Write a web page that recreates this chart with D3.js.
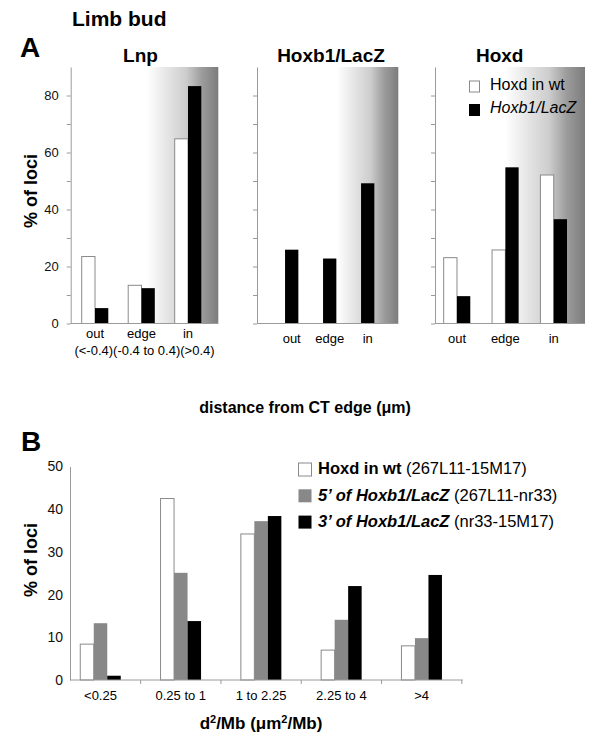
<!DOCTYPE html>
<html><head><meta charset="utf-8">
<script src="https://cdn.jsdelivr.net/npm/d3@7"></script>
<style>body{margin:0;background:#fff}svg{display:block;font-family:"Liberation Sans",Arial,Helvetica,sans-serif}</style>
</head><body><svg id="c" width="600" height="753"></svg>
<script>
// ---------- data ----------
const aCategories = ["out", "edge", "in"];
const aRangeLabels = ["(<-0.4)", "(-0.4 to 0.4)", "(>0.4)"];
const aPanelTitles = ["Lnp", "Hoxb1/LacZ", "Hoxd"];
const lnpWt = [23.5, 13.4, 64.8];
const lnpMut = [5.4, 12.4, 83.3];
const hoxb1Mut = [25.9, 22.8, 49.2];
const hoxdWt = [23.1, 25.8, 52.1];
const hoxdMut = [9.6, 54.8, 36.6];
const aTickValues = [0, 10, 20, 30, 40, 50, 60, 70, 80];
const aLegend = ["Hoxd in wt", "Hoxb1/LacZ"];

const bCategories = ["<0.25", "0.25 to 1", "1 to 2.25", "2.25 to 4", ">4"];
const bWt = [8.4, 42.5, 34.2, 7.0, 8.0];
const b5prime = [13.3, 25.1, 37.2, 14.1, 9.8];
const b3prime = [1.0, 13.8, 38.4, 22.0, 24.6];
const bTickValues = [0, 10, 20, 30, 40, 50];
const bLegendBold = ["Hoxd in wt", "5\u2019 of Hoxb1/LacZ", "3\u2019 of Hoxb1/LacZ"];
const bLegendPlain = [" (267L11-15M17)", " (267L11-nr33)", " (nr33-15M17)"];

// ---------- drawing ----------
const svg = d3.select("#c");
const AX = "#9a9a9a";
const defs = svg.append("defs");
const grad = defs.append("linearGradient").attr("id", "shade").attr("x1", 0).attr("x2", 1).attr("y1", 0).attr("y2", 0);
[[0, "#ffffff"], [0.55, "#cdcdcd"], [0.77, "#9c9c9c"], [1, "#7c7c7c"]].forEach(s =>
  grad.append("stop").attr("offset", s[0]).attr("stop-color", s[1]));

svg.append("text").attr("x", 72).attr("y", 26).attr("font-size", 21).attr("font-weight", "bold").text("Limb bud");
svg.append("text").attr("x", 20).attr("y", 57).attr("font-size", 28).attr("font-weight", "bold").text("A");
svg.append("text").attr("x", 21).attr("y", 451).attr("font-size", 28).attr("font-weight", "bold").text("B");

// ----- panel A -----
const ay = d3.scaleLinear().domain([0, 90]).range([323.5, 67]);
const aBarW = 13.3;
const panels = [
  {title: aPanelTitles[0], titleX: 140.5, axisX: 70.7, right: 218.3, band: [71.75, 211.25], shade: [146.7, 218.3], wt: lnpWt, mut: lnpMut, labels: true, catY: 338},
  {title: aPanelTitles[1], titleX: 331, axisX: 257, right: 398.3, band: [272.7, 386.7], shade: [336.7, 398.3], wt: null, mut: hoxb1Mut, labels: false, catY: 342.5},
  {title: aPanelTitles[2], titleX: 499.7, axisX: 435, right: 585, band: [432.8, 577.9], shade: [505, 585], wt: hoxdWt, mut: hoxdMut, labels: false, catY: 342.5}
];

panels.forEach(p => {
  const g = svg.append("g");
  const x = d3.scaleBand().domain(aCategories).range(p.band);
  const cx = c => x(c) + x.bandwidth() / 2;
  g.append("rect").attr("x", p.shade[0]).attr("y", ay(90)).attr("width", p.shade[1] - p.shade[0])
    .attr("height", ay(0) - ay(90)).attr("fill", "url(#shade)");
  g.append("text").attr("x", p.titleX).attr("y", 62).attr("text-anchor", "middle")
    .attr("font-size", 19).attr("font-weight", "bold").text(p.title);
  if (p.wt) {
    g.selectAll(".wt").data(aCategories).join("rect")
      .attr("x", c => cx(c) - aBarW).attr("width", aBarW)
      .attr("y", (c, i) => ay(p.wt[i])).attr("height", (c, i) => ay(0) - ay(p.wt[i]))
      .attr("fill", "#fff").attr("stroke", "#8a8a8a").attr("stroke-width", 1);
    g.selectAll(".mut").data(aCategories).join("rect")
      .attr("x", c => cx(c)).attr("width", aBarW)
      .attr("y", (c, i) => ay(p.mut[i])).attr("height", (c, i) => ay(0) - ay(p.mut[i]))
      .attr("fill", "#000");
  } else {
    g.selectAll(".mut").data(aCategories).join("rect")
      .attr("x", c => cx(c) - aBarW / 2).attr("width", aBarW)
      .attr("y", (c, i) => ay(p.mut[i])).attr("height", (c, i) => ay(0) - ay(p.mut[i]))
      .attr("fill", "#000");
  }
  const axis = d3.axisLeft(ay).tickValues(aTickValues).tickSize(4).tickSizeOuter(0).tickPadding(8)
    .tickFormat(d => p.labels && d % 20 === 0 ? d : "");
  const ag = g.append("g").attr("transform", `translate(${p.axisX},0)`).call(axis);
  ag.select(".domain").attr("stroke", AX);
  ag.selectAll(".tick line").attr("stroke", AX);
  ag.selectAll(".tick text").attr("font-size", 13).attr("fill", "#111").attr("font-family", "Liberation Sans, Arial, sans-serif");
  g.append("line").attr("x1", p.axisX).attr("x2", p.right).attr("y1", ay(0)).attr("y2", ay(0)).attr("stroke", AX);
  g.selectAll(".cat").data(aCategories).join("text")
    .attr("x", c => cx(c)).attr("y", p.catY).attr("text-anchor", "middle").attr("font-size", 13).text(c => c);
  if (p.labels) {
    g.append("text").attr("x", (p.axisX + p.right) / 2).attr("y", 355).attr("text-anchor", "middle")
      .attr("font-size", 13).text(aRangeLabels.join(""));
  }
});

// legend A
const legA = svg.append("g");
aLegend.forEach((t, i) => {
  legA.append("rect").attr("x", 469.5).attr("y", 81 + i * 23.5).attr("width", 10).attr("height", 11)
    .attr("fill", i ? "#000" : "#fff").attr("stroke", i ? "#000" : "#8a8a8a");
  legA.append("text").attr("x", 490).attr("y", 89.5 + i * 23).attr("font-size", 16)
    .attr("font-style", i ? "italic" : "normal").text(t);
});

svg.append("text").attr("transform", "translate(37,191) rotate(-90)").attr("text-anchor", "middle")
  .attr("font-size", 18).attr("font-weight", "bold").text("% of loci");
svg.append("text").attr("x", 305).attr("y", 413).attr("text-anchor", "middle")
  .attr("font-size", 16).attr("font-weight", "bold").text("distance from CT edge (\u03bcm)");

// ----- panel B -----
const by = d3.scaleLinear().domain([0, 50]).range([680, 466.5]);
const bx = d3.scaleBand().domain(bCategories).range([60.35, 461.85]);
const bBarW = 13.5;
const bSeries = [{vals: bWt, fill: "#fff", stroke: "#8a8a8a"}, {vals: b5prime, fill: "#888", stroke: "none"}, {vals: b3prime, fill: "#000", stroke: "none"}];
const gb = svg.append("g");
bSeries.forEach((s, si) => {
  gb.selectAll(".s" + si).data(bCategories).join("rect")
    .attr("x", c => bx(c) + bx.bandwidth() / 2 + (si - 1.5) * bBarW).attr("width", bBarW)
    .attr("y", (c, i) => by(s.vals[i])).attr("height", (c, i) => by(0) - by(s.vals[i]))
    .attr("fill", s.fill).attr("stroke", s.stroke);
});
const bAxis = d3.axisLeft(by).tickValues(bTickValues).tickSize(0).tickSizeOuter(0).tickPadding(7);
const bag = gb.append("g").attr("transform", "translate(70,0)").call(bAxis);
bag.select(".domain").attr("stroke", AX);
bag.selectAll(".tick text").attr("font-size", 14).attr("fill", "#111").attr("font-family", "Liberation Sans, Arial, sans-serif");
gb.append("line").attr("x1", 70).attr("x2", bx.range()[1] + 1).attr("y1", by(0)).attr("y2", by(0)).attr("stroke", AX);
const bounds = bCategories.slice(1).map(c => bx(c)).concat([bx.range()[1]]);
gb.selectAll(".bt").data(bounds).join("line").attr("x1", d => d).attr("x2", d => d)
  .attr("y1", by(0)).attr("y2", by(0) + 4).attr("stroke", AX);
gb.selectAll(".bc").data(bCategories).join("text")
  .attr("x", c => bx(c) + bx.bandwidth() / 2).attr("y", 700).attr("text-anchor", "middle").attr("font-size", 13).text(c => c);

// legend B
const legB = svg.append("g");
bLegendBold.forEach((t, i) => {
  legB.append("rect").attr("x", 298.5).attr("y", 463 + i * 26.3).attr("width", 13).attr("height", 13)
    .attr("fill", bSeries[i].fill).attr("stroke", i === 0 ? "#8a8a8a" : "none");
  const tx = legB.append("text").attr("x", 318).attr("y", 474 + i * 26.5).attr("font-size", 16.5);
  tx.append("tspan").attr("font-weight", "bold").attr("font-style", i ? "italic" : "normal").text(t);
  tx.append("tspan").text(bLegendPlain[i]);
});

svg.append("text").attr("transform", "translate(37,560) rotate(-90)").attr("text-anchor", "middle")
  .attr("font-size", 18).attr("font-weight", "bold").text("% of loci");
const xl = svg.append("text").attr("x", 261).attr("y", 729).attr("text-anchor", "middle")
  .attr("font-size", 17).attr("font-weight", "bold");
xl.append("tspan").text("d");
xl.append("tspan").attr("font-size", 11).attr("dy", -6).text("2");
xl.append("tspan").attr("dy", 6).text("/Mb (\u03bcm");
xl.append("tspan").attr("font-size", 11).attr("dy", -6).text("2");
xl.append("tspan").attr("dy", 6).text("/Mb)");
</script></body></html>
